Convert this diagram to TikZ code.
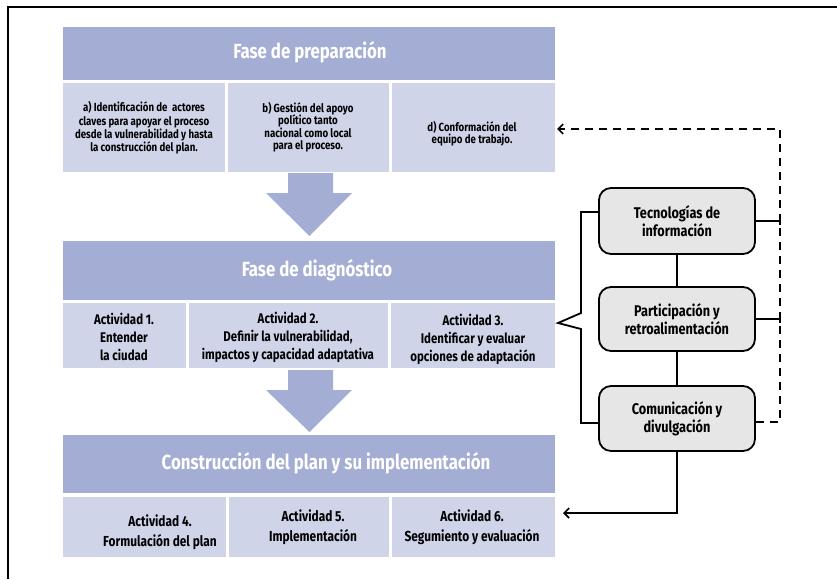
\documentclass[tikz,border=0pt]{standalone}
\usepackage{fontspec}
\setmainfont{Fira Sans}[FakeStretch=0.82]
\usetikzlibrary{arrows.meta,calc}
\definecolor{hdr}{HTML}{A4ADD4}
\definecolor{sub}{HTML}{CFD4E8}
\definecolor{rbox}{HTML}{E6E6E6}
\begin{document}
\begin{tikzpicture}[x=1pt,y=-1pt,
  header/.style={fill=hdr,draw=none,inner sep=0pt},
  htxt/.style={inner sep=0pt,text=white,font=\fontsize{20.5}{24}\selectfont\bfseries},
  subbox/.style={fill=sub,draw=none,inner sep=0pt},
  sidebox/.style={fill=rbox,draw=black,line width=1.8pt,rounded corners=12pt,minimum width=156pt,inner sep=0pt,align=center,font=\fontsize{15.5}{18}\selectfont\bfseries},
  txt/.style={inner sep=0pt,align=center},
  conn/.style={line width=1.8pt,draw=black},
  bigarrow/.style={fill=hdr,draw=none},
  tip/.style={-{Straight Barb[length=5pt,width=10pt,line width=1.6pt]}}]
\useasboundingbox (0,0) rectangle (837,579);
% frame
\draw[line width=2.5pt] (8,579) -- (8,7) -- (837,7);
% phase 1
\node[header,minimum width=492pt,minimum height=53pt] (h1) at (309,53.5) {};
\node[htxt] (h1t) at (310,52.5) {Fase de preparación};
\node[subbox,minimum width=162pt,minimum height=89pt] (p1) at (144,127.5) {};
\node[subbox,minimum width=161pt,minimum height=89pt] (p2) at (308.5,127.5) {};
\node[subbox,minimum width=163pt,minimum height=89pt] (p3) at (473.5,127.5) {};
\node[txt,font=\fontsize{11.8}{13.3}\selectfont\bfseries] (t1) at (144,128) {a) Identificación de \ actores\\claves para apoyar el proceso\\desde la vulnerabilidad y hasta\\la construcción del plan.};
\node[txt,font=\fontsize{11.8}{12.5}\selectfont\bfseries] (t2) at (308,127) {b) Gestión del apoyo\\político tanto\\nacional como local\\para el proceso.};
\node[txt,font=\fontsize{11.8}{12}\selectfont\bfseries] (t3) at (472,134) {d) Conformación del\\equipo de trabajo.};
% arrow 1
\fill[bigarrow] (288,173) -- (333,173) -- (333,193) -- (352,193) -- (309.5,236) -- (266,193) -- (288,193) -- cycle;
% phase 2
\node[header,minimum width=492pt,minimum height=59pt] (h2) at (309,270.5) {};
\node[htxt] (h2t) at (317,270) {Fase de diagnóstico};
\node[subbox,minimum width=123pt,minimum height=65pt] (d1) at (124.5,335.5) {};
\node[subbox,minimum width=199pt,minimum height=65pt] (d2) at (288.5,335.5) {};
\node[subbox,minimum width=164pt,minimum height=65pt] (d3) at (473,335.5) {};
\node[txt,font=\fontsize{14}{18}\selectfont\bfseries] (u1) at (124,337) {Actividad 1.\\Entender\\la ciudad};
\node[txt,font=\fontsize{14}{18}\selectfont\bfseries] (u2) at (288,337) {Actividad 2.\\Definir la vulnerabilidad,\\impactos y capacidad adaptativa};
\node[txt,font=\fontsize{14}{18}\selectfont\bfseries] (u3) at (473,339) {Actividad 3.\\Identificar y evaluar\\opciones de adaptación};
% arrow 2
\fill[bigarrow] (288,370) -- (333,370) -- (333,390) -- (352,390) -- (309.5,432) -- (266,390) -- (288,390) -- cycle;
% phase 3
\node[header,minimum width=492pt,minimum height=58pt] (h3) at (309,464) {};
\node[htxt] (h3t) at (326,463) {Construcción del plan y su implementación};
\node[subbox,minimum width=163pt,minimum height=60pt] (c1) at (144.5,527) {};
\node[subbox,minimum width=160pt,minimum height=60pt] (c2) at (309,527) {};
\node[subbox,minimum width=163pt,minimum height=60pt] (c3) at (473.5,527) {};
\node[txt,font=\fontsize{14.5}{20}\selectfont\bfseries] (v1) at (160,532) {Actividad 4.\\Formulación del plan};
\node[txt,font=\fontsize{14.5}{20}\selectfont\bfseries] (v2) at (313,527) {Actividad 5.\\Implementación};
\node[txt,font=\fontsize{14.5}{20}\selectfont\bfseries] (v3) at (472,527) {Actividad 6.\\Segumiento y evaluación};
% side boxes
\node[sidebox,minimum height=66pt] (r1) at (677,221) {Tecnologías de\\información};
\node[sidebox,minimum height=64pt] (r2) at (677,319) {Participación y\\retroalimentación};
\node[sidebox,minimum height=65pt] (r3) at (677,418.5) {Comunicación y\\divulgación};
\coordinate (bt) at (581,212);
\coordinate (bb) at (581,423);
\coordinate (bk) at (558,323);
\coordinate (rr) at (780,129);
\coordinate (ra) at (557,129);
\coordinate (ba) at (563,513);
% connectors
\draw[conn] (r1) -- (r2);
\draw[conn] (r2) -- (r3);
\draw[conn] (r1.west |- bt) -- (bt) -- (581,313) -- (bk) -- (581,329) -- (bb) -- (r3.west |- bb);
\draw[conn] (r1.east) -- (rr |- r1.east) -- ++(0,4);
\draw[conn] (r2.east) -- (rr |- r2.east) -- ++(0,4);
\draw[conn,dashed,dash pattern=on 8pt off 6pt,tip] (r3.east |- 0,422) -- (780,422) -- (rr) -- (ra);
\draw[conn,tip] (r3.south) -- (r3.south |- ba) -- (ba);
\end{tikzpicture}
\end{document}
